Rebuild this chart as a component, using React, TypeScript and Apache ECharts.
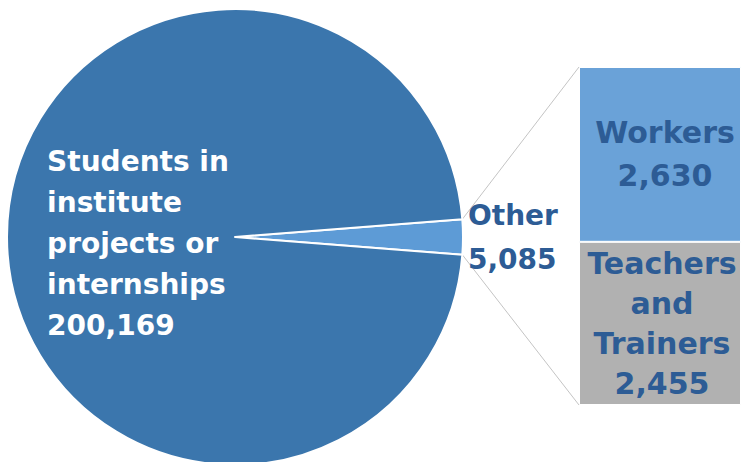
import React, { useEffect, useRef } from "react";
import * as echarts from "echarts";

const pieNames = ["Other", "Students in institute projects or internships"];
const pieValues = [5085, 200169];
const barNames = ["Teachers and Trainers", "Workers"];
const barValues = [2455, 2630];
const barCategory = ["Other"];
const studentLines = ["Students in", "institute", "projects or", "internships"];

const fmt = (v: number) => v.toLocaleString("en-US");

export default function App() {
  const ref = useRef<HTMLDivElement>(null);
  useEffect(() => {
    document.body.style.margin = "0";
    const chart = echarts.init(ref.current!, null, { renderer: "svg" });
    const total = pieValues.reduce((a, b) => a + b, 0);
    const otherTotal = barValues.reduce((a, b) => a + b, 0);
    const half = (360 * pieValues[0]) / total / 2;
    const cx = 235, cy = 237, r = 228;
    const gLeft = 579, gTop = 67, gW = 166, gH = 338;
    const rad = (half * Math.PI) / 180;
    const ex = cx + r * Math.cos(rad);
    const eyTop = cy - r * Math.sin(rad);
    const eyBot = cy + r * Math.sin(rad);
    const font = "'DejaVu Sans', sans-serif";
    const dark = "#2d5c95";

    chart.setOption({
      animation: false,
      grid: { left: gLeft, top: gTop, width: gW, height: gH },
      xAxis: { type: "category", data: barCategory, show: false },
      yAxis: { type: "value", min: 0, max: otherTotal, show: false },
      graphic: [
        { type: "line", z: 0, shape: { x1: ex, y1: eyTop, x2: gLeft, y2: gTop }, style: { stroke: "#c4c4c4", lineWidth: 1 } },
        { type: "line", z: 0, shape: { x1: ex, y1: eyBot, x2: gLeft, y2: gTop + gH }, style: { stroke: "#c4c4c4", lineWidth: 1 } },
      ],
      series: [
        {
          type: "pie",
          center: [cx, cy],
          radius: r,
          startAngle: half,
          clockwise: true,
          avoidLabelOverlap: false,
          itemStyle: { borderColor: "#ffffff", borderWidth: 2 },
          data: [
            {
              name: pieNames[0],
              value: pieValues[0],
              itemStyle: { color: "#5d9bd6" },
              label: {
                position: "outside",
                color: dark,
                fontFamily: font,
                fontWeight: 700,
                fontSize: 28,
                lineHeight: 44,
                padding: [12, 0, 0, 0],
                formatter: (p: any) => `${p.name}\n${fmt(p.value)}`,
              },
              labelLine: { show: false, length: 0, length2: 0 },
            },
            {
              name: pieNames[1],
              value: pieValues[1],
              itemStyle: { color: "#3b76ad" },
              label: {
                position: "inside",
                padding: [12, 0, 0, 40],
                formatter: () =>
                  [...studentLines, fmt(pieValues[1])].map((s) => `{a|${s}}`).join("\n"),
                rich: {
                  a: {
                    align: "left",
                    color: "#ffffff",
                    fontFamily: font,
                    fontWeight: 700,
                    fontSize: 28,
                    lineHeight: 41,
                  },
                },
              },
            },
          ],
        },
        ...barNames.map((n, i) => ({
          type: "bar",
          name: n,
          stack: "other",
          barWidth: "100%",
          data: [barValues[i]],
          itemStyle: {
            color: i === 0 ? "#b1b1b1" : "#6aa2d8",
            borderColor: "#ffffff",
            borderWidth: 1,
          },
          label: {
            show: true,
            position: "inside",
            color: dark,
            fontFamily: font,
            fontWeight: 700,
            fontSize: 30,
            lineHeight: i === 0 ? 40 : 43,
            padding: i === 0 ? [0, 0, 0, 4] : [10, 0, 0, 10],
            formatter: (p: any) =>
              `${p.seriesName.replace(" and ", "\nand\n")}\n${fmt(p.value)}`,
          },
        })),
      ],
    });
    return () => chart.dispose();
  }, []);
  return <div ref={ref} style={{ width: 741, height: 462 }} />;
}
